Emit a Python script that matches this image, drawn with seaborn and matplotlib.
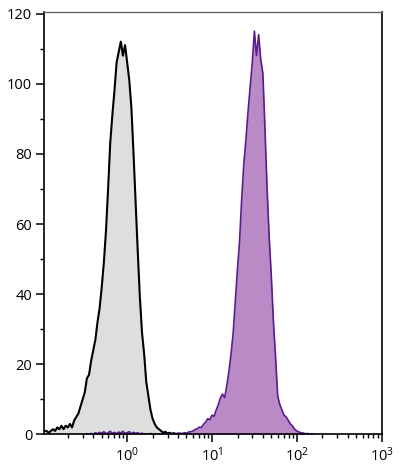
import numpy as np
import pandas as pd
import matplotlib
matplotlib.use("Agg")
import matplotlib.pyplot as plt
import seaborn as sns
from matplotlib.ticker import LogLocator, MultipleLocator, NullFormatter

# channel layout: log10 position of first channel and spacing (decades)
gray_start = -1.0
purple_start = -0.5
channel_step = 0.025

# unstained control (black outline, gray fill), counts per channel
gray_counts = [1, 1, 1, 0.5, 1, 1.5, 1, 2, 1.5, 2.5,
               1.5, 2.5, 2, 3, 2, 4, 5, 6, 8, 10,
               12, 16, 17, 21, 24, 27, 32, 36, 42, 49,
               58, 70, 83, 91, 98, 106, 109, 112, 108, 111,
               106, 101, 93, 80, 66, 52, 39, 29, 23, 15,
               11, 7, 4.5, 3, 2, 1.5, 1, 0.5, 0.8, 0.3,
               0.5, 0.2, 0.4, 0.1, 0.3, 0, 0.2, 0]

# stained sample (purple), counts per channel
purple_counts = [0, 0.2, 0, 0.3, 0, 0.5, 0.2, 0.6, 0.3, 0.8,
                 0.2, 0.5, 0.9, 0.3, 0.6, 0.2, 0.7, 0.4, 0.9, 0.3,
                 0.5, 0.8, 0.2, 0.6, 0.3, 0.5, 0.1, 0.4, 0, 0.2,
                 0, 0.3, 0, 0.2, 0, 0.1, 0, 0.2, 0.1, 0,
                 0.2, 0.1, 0.3, 0.2, 0.2, 0.4, 0.2, 0.5, 0.4, 0.7,
                 0.8, 1.0, 1.4, 1.6, 2.1, 2.0, 2.9, 3.5, 4.5, 4.2,
                 5.5, 5.2, 7.0, 8.5, 10.5, 11.5, 10.5, 14, 18, 23,
                 29, 38, 47, 55, 67, 77, 84, 92, 99, 106,
                 115, 108, 114, 107, 103, 87, 70, 56, 45, 32,
                 22, 11, 8.5, 7, 5.5, 5, 4, 3, 2.4, 1.5,
                 1.0, 0.7, 0.5, 0.4, 0.2, 0.3, 0.1, 0.2, 0]

y_ticks = [0, 20, 40, 60, 80, 100, 120]

gray_x = 10 ** (gray_start + channel_step * np.arange(len(gray_counts)))
purple_x = 10 ** (purple_start + channel_step * np.arange(len(purple_counts)))
gray_df = pd.DataFrame({"intensity": gray_x, "count": gray_counts})
purple_df = pd.DataFrame({"intensity": purple_x, "count": purple_counts})

sns.set_style("ticks")
plt.rcParams['font.family'] = ['Open Sans', 'DejaVu Sans']
plt.rcParams['mathtext.fontset'] = 'custom'
plt.rcParams['mathtext.rm'] = 'Open Sans'
plt.rcParams['mathtext.it'] = 'Open Sans'
plt.rcParams['mathtext.default'] = 'regular'

fig = plt.figure(figsize=(4, 4.72), dpi=100)
ax = fig.add_axes([0.111, 0.0795, 0.843, 0.8955])

ax.fill_between(gray_df["intensity"], gray_df["count"], color="#dedede", lw=0)
sns.lineplot(data=gray_df, x="intensity", y="count", color="black", lw=1.5,
             estimator=None, sort=False, ax=ax)
ax.fill_between(purple_df["intensity"], purple_df["count"], color="#b98ac5", lw=0)
sns.lineplot(data=purple_df, x="intensity", y="count", color="#5b1a8e", lw=1.2,
             estimator=None, sort=False, ax=ax)

ax.set_xscale("log")
ax.set_xlim(10 ** -0.976, 10 ** 3.0)
ax.set_ylim(0, 120.5)
ax.set_xlabel("")
ax.set_ylabel("")

ax.set_yticks(y_ticks)
ax.yaxis.set_minor_locator(MultipleLocator(10))
ax.xaxis.set_major_locator(LogLocator(base=10, numticks=10))
ax.xaxis.set_minor_locator(LogLocator(base=10, subs=np.arange(2, 10), numticks=20))
ax.xaxis.set_minor_formatter(NullFormatter())

ax.tick_params(axis="both", which="major", length=5.8, width=1.1, color="black",
               labelsize=10.5, labelcolor="black", pad=3)
ax.tick_params(axis="both", which="minor", length=2.8, width=1.0, color="black")

for side in ["left", "bottom", "right"]:
    ax.spines[side].set_color("black")
    ax.spines[side].set_linewidth(1.2)
ax.spines["top"].set_color("#666666")
ax.spines["top"].set_linewidth(1.0)

fig.savefig("out.png", dpi=100)
